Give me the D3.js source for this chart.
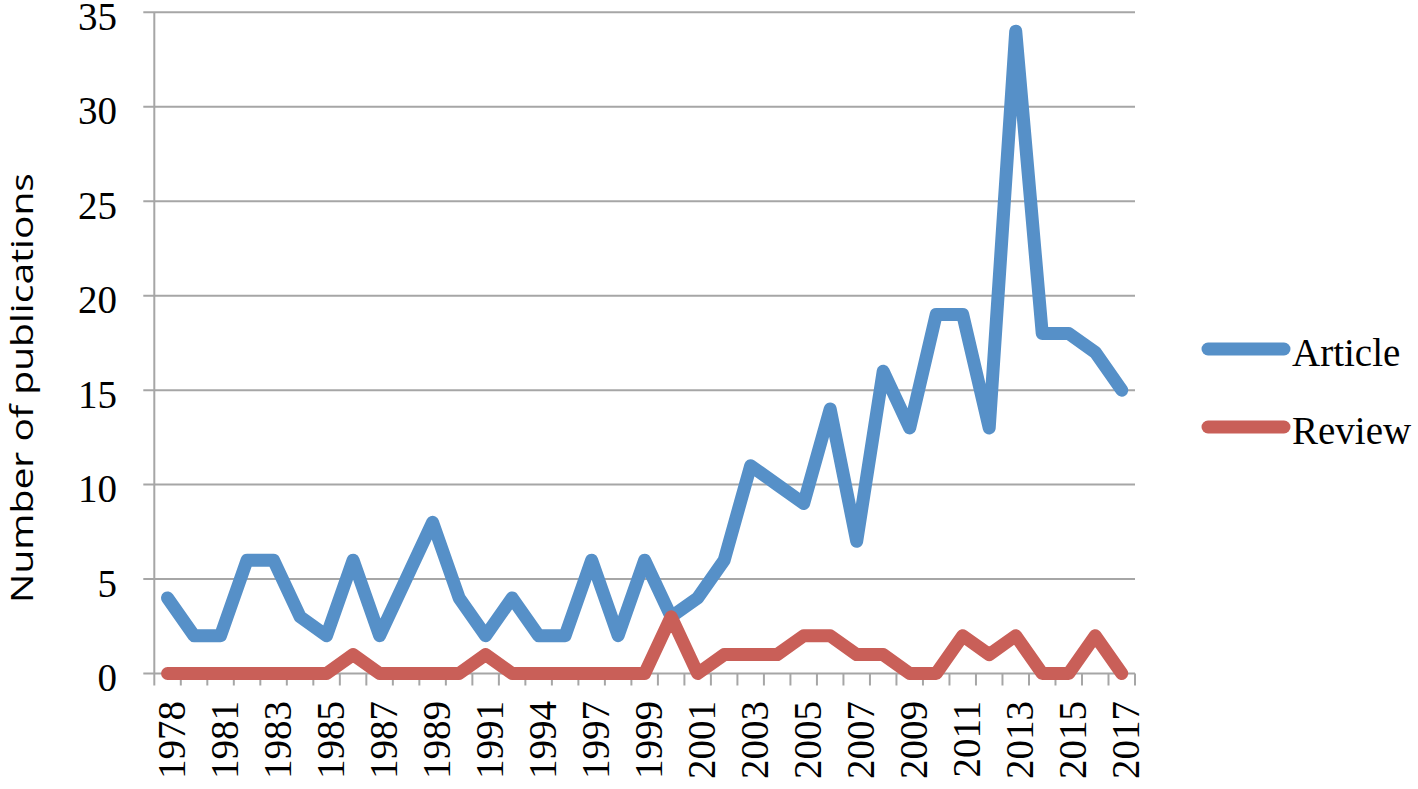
<!DOCTYPE html>
<html>
<head>
<meta charset="utf-8">
<script src="https://cdn.jsdelivr.net/npm/d3@7"></script>
<style>
  html, body { margin: 0; padding: 0; background: #fff; }
  svg { display: block; }
</style>
</head>
<body>
<svg id="chart" width="1418" height="789"></svg>
<script>
// ---- data ----
const years = [
  "1978","1980","1981","1982","1983","1984","1985","1986","1987","1988",
  "1989","1990","1991","1993","1994","1996","1997","1998","1999","2000",
  "2001","2002","2003","2004","2005","2006","2007","2008","2009","2010",
  "2011","2012","2013","2014","2015","2016","2017"
];
const article = [4,2,2,6,6,3,2,6,2,5,8,4,2,4,2,2,6,2,6,3,4,6,11,10,9,14,7,16,13,19,19,13,34,18,18,17,15];
const review  = [0,0,0,0,0,0,0,1,0,0,0,0,1,0,0,0,0,0,0,3,0,1,1,1,2,2,1,1,0,0,2,1,2,0,0,2,0];
const yTicks = [0,5,10,15,20,25,30,35];
const seriesNames = ["Article","Review"];
const seriesColors = ["#5690c8","#c95f58"];

// ---- layout ----
const svg = d3.select("#chart");
const pL = 154.3, pR = 1135, pT = 12.3, pB = 673.5;
const gridColor = "#a6a6a6";
const serif = "'Liberation Serif', 'Times New Roman', serif";

const x = d3.scaleBand().domain(years).range([pL, pR]).paddingInner(0).paddingOuter(0);
const y = d3.scaleLinear().domain([0, 35]).range([pB, pT]);

// gridlines + y ticks (extend left of axis)
svg.append("g").selectAll("line").data(yTicks).join("line")
  .attr("x1", pL - 11).attr("x2", pR)
  .attr("y1", d => y(d)).attr("y2", d => y(d))
  .attr("stroke", gridColor).attr("stroke-width", 2);

// y axis line
svg.append("line")
  .attr("x1", pL).attr("x2", pL).attr("y1", y(35)).attr("y2", pB)
  .attr("stroke", gridColor).attr("stroke-width", 2);

// x ticks at category boundaries
const bounds = years.map(d => x(d)).concat([pR]);
svg.append("g").selectAll("line").data(bounds).join("line")
  .attr("x1", d => d).attr("x2", d => d)
  .attr("y1", pB).attr("y2", pB + 12)
  .attr("stroke", gridColor).attr("stroke-width", 2);

// y tick labels
svg.append("g").selectAll("text").data(yTicks).join("text")
  .attr("x", 117).attr("y", d => y(d) + 17.5)
  .attr("text-anchor", "end")
  .attr("font-family", serif).attr("font-size", 39).attr("fill", "#000")
  .text(d => d);

// x tick labels (every other category)
svg.append("g").selectAll("text").data(years.filter((d, i) => i % 2 === 0)).join("text")
  .attr("transform", d => `translate(${x(d) + x.bandwidth() / 2 + 17},701) rotate(-90)`)
  .attr("text-anchor", "end")
  .attr("font-family", serif).attr("font-size", 39).attr("fill", "#000")
  .text(d => d);

// y axis title
svg.append("text")
  .attr("transform", "translate(33,388) rotate(-90)")
  .attr("text-anchor", "middle")
  .attr("font-family", "'Open Sans', sans-serif").attr("font-size", 31).attr("fill", "#000")
  .attr("textLength", 430).attr("lengthAdjust", "spacingAndGlyphs")
  .text("Number of publications");

// lines
const line = d3.line()
  .x((d, i) => x(years[i]) + x.bandwidth() / 2)
  .y(d => y(d));

[article, review].forEach((vals, k) => {
  svg.append("path")
    .datum(vals)
    .attr("d", line)
    .attr("fill", "none")
    .attr("stroke", seriesColors[k])
    .attr("stroke-width", 13)
    .attr("stroke-linejoin", "round")
    .attr("stroke-linecap", "round");
});

// legend
const legY = [349, 427];
seriesNames.forEach((name, k) => {
  svg.append("line")
    .attr("x1", 1208).attr("x2", 1284)
    .attr("y1", legY[k]).attr("y2", legY[k])
    .attr("stroke", seriesColors[k]).attr("stroke-width", 13)
    .attr("stroke-linecap", "round");
  svg.append("text")
    .attr("x", 1292).attr("y", legY[k] + 17)
    .attr("font-family", serif).attr("font-size", 39).attr("fill", "#000")
    .text(name);
});
</script>
</body>
</html>
